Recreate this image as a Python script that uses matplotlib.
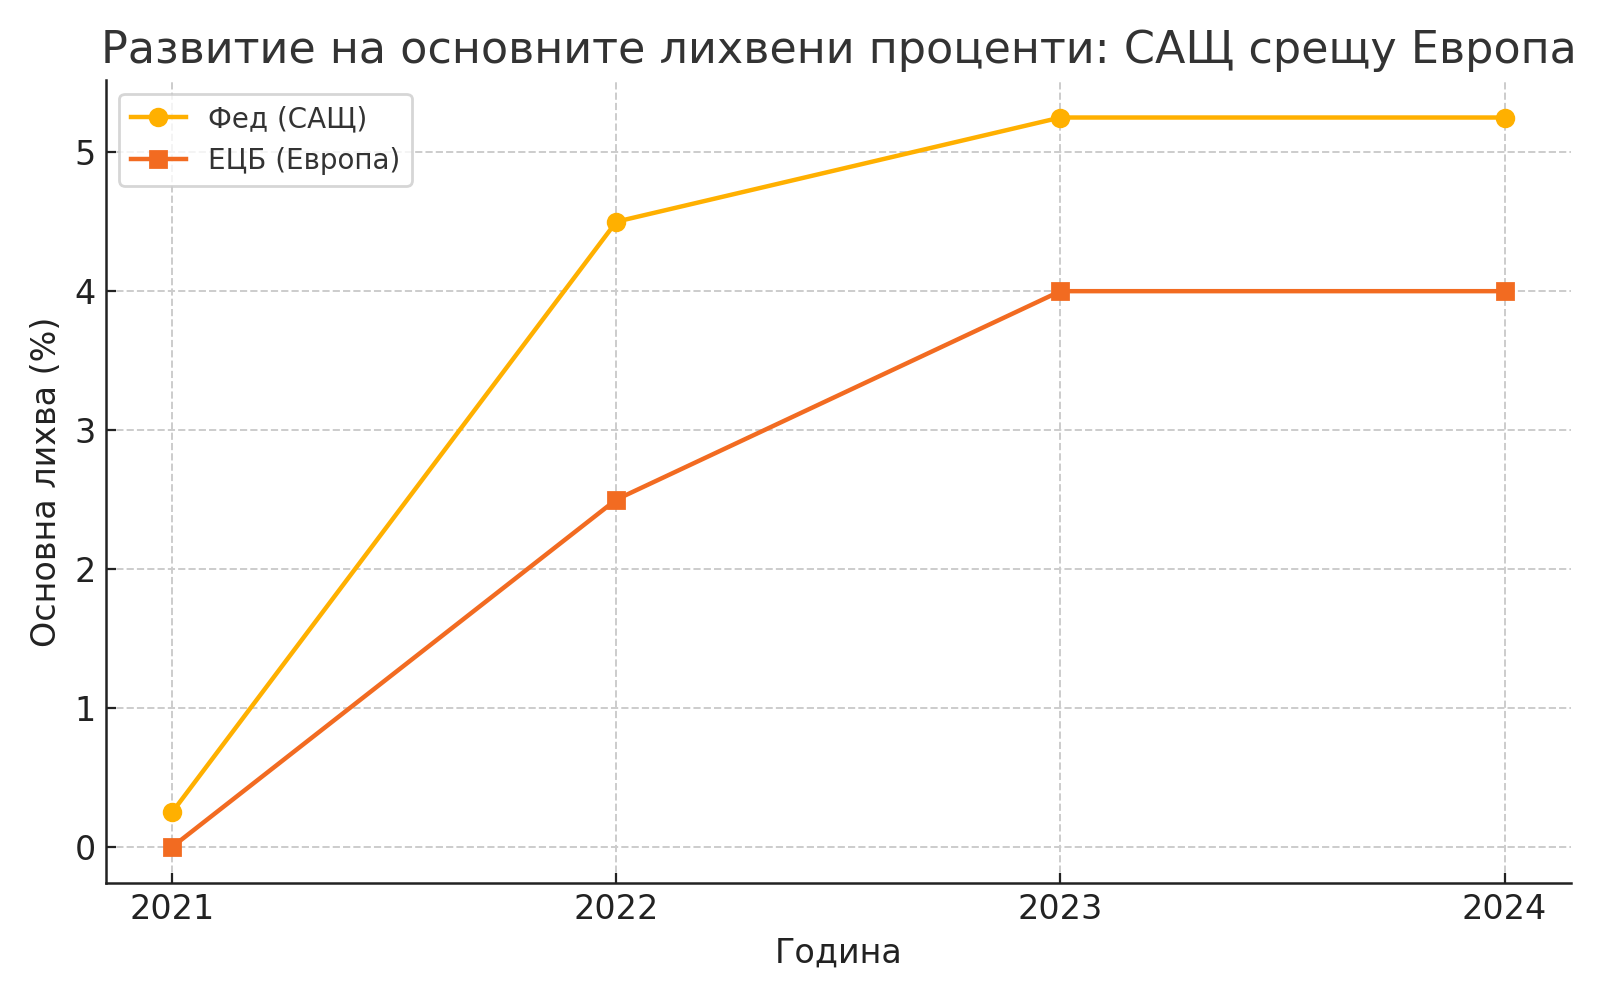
import matplotlib
matplotlib.use("Agg")
import matplotlib.pyplot as plt

years = [2021, 2022, 2023, 2024]
fed = [0.25, 4.5, 5.25, 5.25]
ecb = [0.0, 2.5, 4.0, 4.0]

plt.rcParams['font.family'] = ['DejaVu Sans']

fig, ax = plt.subplots(figsize=(8, 5), dpi=200)
fig.subplots_adjust(left=0.066, right=0.982, top=0.92, bottom=0.117)

ax.plot(years, fed, marker='o', color='#FFB000', linewidth=1.6, markersize=6, label='Фед (САЩ)')
ax.plot(years, ecb, marker='s', color='#F26B21', linewidth=1.6, markersize=6, label='ЕЦБ (Европа)')

ax.set_title('Развитие на основните лихвени проценти: САЩ срещу Европа', fontsize=16, color='#333333')
ax.set_xlabel('Година', fontsize=12, color='#222222')
ax.set_ylabel('Основна лихва (%)', fontsize=12, color='#222222')
ax.set_xticks(years)
ax.tick_params(labelsize=12, direction='in', colors='#222222')
ax.set_xlim(2020.85, 2024.15)
ax.set_ylim(-0.26, 5.52)
ax.grid(True, linestyle='--', color='#cccccc', linewidth=0.7)
ax.spines['top'].set_visible(False)
ax.spines['right'].set_visible(False)
for s in ['left', 'bottom']:
    ax.spines[s].set_color('#222222')
    ax.spines[s].set_linewidth(0.9)
ax.legend(loc='upper left', fontsize=10, labelcolor='#333333', fancybox=True)

fig.savefig('out.png')
